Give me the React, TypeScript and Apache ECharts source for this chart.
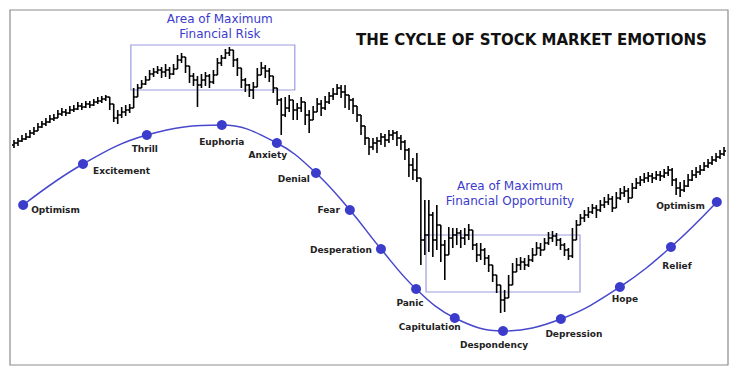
import React, { useEffect, useRef } from "react";
import * as echarts from "echarts";

// Weekly price bars (index, high, low, close); open = previous close
const closes = [222,224,226,228,232,234,238,241,243,246,247,251,253,252,255,256,259,258,261,260,263,264,266,268,261,247,250,253,255,257,268,277,281,285,291,293,295,293,295,291,296,305,308,299,289,285,280,285,289,283,290,302,307,312,315,305,297,285,280,275,278,290,297,294,289,277,265,250,257,265,255,257,263,250,245,253,261,257,263,269,271,277,273,270,265,259,250,239,227,218,222,224,228,225,230,232,227,223,215,200,195,187,125,130,150,125,140,120,110,127,130,132,127,130,135,120,110,115,107,100,90,80,65,67,80,93,100,103,100,105,110,117,115,122,127,129,125,120,115,109,125,140,147,150,153,157,155,160,163,166,157,167,172,174,167,177,182,185,187,189,187,190,189,192,195,185,177,175,179,185,190,193,195,199,202,205,208,211,214];
const highs = [225,227,230,232,235,238,242,244,247,250,251,255,257,256,259,260,263,262,264,264,266,268,269,270,268,257,255,258,260,261,277,281,285,289,295,297,299,298,301,298,301,310,312,307,297,292,289,291,293,291,295,307,310,316,318,310,307,293,287,281,283,297,303,300,297,288,275,267,268,270,265,262,268,260,255,259,267,265,269,273,277,281,280,280,270,267,257,247,237,227,227,228,232,231,235,235,234,230,225,217,207,212,187,165,165,153,160,135,125,138,137,137,135,137,141,130,122,122,117,110,97,90,78,75,90,102,107,108,107,110,117,123,122,127,133,134,132,127,122,117,137,145,151,155,158,161,160,165,168,171,169,173,177,179,177,182,187,189,192,193,192,194,194,196,199,197,187,183,185,191,195,198,200,203,206,209,212,215,218];
const lows = [217,219,223,225,227,230,234,237,239,242,244,247,249,249,251,253,255,255,257,257,259,261,262,264,255,243,241,247,249,252,260,271,277,280,286,288,291,287,288,286,290,297,302,292,282,279,258,277,279,277,281,293,299,306,309,298,289,277,273,268,266,281,290,287,283,272,260,230,248,253,245,245,253,240,232,245,253,249,255,261,265,270,267,257,255,251,243,230,220,210,215,212,220,218,222,225,219,215,205,188,185,183,100,110,113,108,115,103,85,110,117,120,117,120,125,115,103,105,100,93,83,72,52,53,73,80,93,95,95,98,103,110,109,115,120,123,119,115,109,105,107,133,141,143,147,151,147,153,157,160,153,160,165,168,162,171,176,179,182,183,182,185,184,187,189,179,170,168,173,178,184,187,190,194,197,200,203,206,209];
const firstOpen = 220;

// Emotion cycle points
const emotions = ["Optimism","Excitement","Thrill","Euphoria","Anxiety","Denial","Fear","Desperation","Panic","Capitulation","Despondency","Depression","Hope","Relief","Optimism"];
const emotionX = [3.3,18.3,34.3,53.1,66.9,76.7,85.2,93.0,101.8,111.5,123.6,138.1,152.9,165.7,177.2];
const emotionY = [160,201,230,240,222,192,155,116,76,47,34,46,78,118,163];

// Highlighted zones
const zoneLabels = ["Area of Maximum\nFinancial Risk", "Area of Maximum\nFinancial Opportunity"];
const zoneX = [[30.3, 71.4], [104.3, 142.9]];
const zoneY = [[275, 320], [73, 130]];

const titleText = "THE CYCLE OF STOCK MARKET EMOTIONS";

const labelPlacement: any[] = [
  { position: "right", offset: [-2, 5] },
  { position: "right", offset: [0, 7] },
  { position: "bottom", offset: [-2, -1] },
  { position: "bottom", offset: [0, 2] },
  { position: "bottom", offset: [-9, -3] },
  { position: "left", offset: [4, 6] },
  { position: "left", offset: [0, 0] },
  { position: "left", offset: [1, 1] },
  { position: "bottom", offset: [-6, -1] },
  { position: "bottom", offset: [-25, -6] },
  { position: "bottom", offset: [-9, -1] },
  { position: "bottom", offset: [13, 0] },
  { position: "bottom", offset: [5, -3] },
  { position: "bottom", offset: [6, 4] },
  { position: "left", offset: [-2, 4] },
];
const zoneLabelStyle: any[] = [
  { distance: 3, offset: [7, 0] },
  { distance: 3, offset: [7, -23] },
];

export default function App() {
  const ref = useRef<HTMLDivElement>(null);
  useEffect(() => {
    if (!ref.current) return;
    const chart = echarts.init(ref.current, null, { renderer: "svg" });
    const bars = closes.map((c, i) => [i + 1, i === 0 ? firstOpen : closes[i - 1], highs[i], lows[i], c]);
    const curve = emotions.map((name, i) => ({
      name,
      value: [emotionX[i], emotionY[i]],
      label: { show: true, formatter: name, ...labelPlacement[i] },
    }));
    const font = "'DejaVu Sans', Verdana, sans-serif";
    chart.setOption({
      animation: false,
      backgroundColor: "#ffffff",
      grid: { left: 10, right: 10, top: 10, bottom: 12, show: true, borderColor: "#8c8c8c", borderWidth: 1.2, backgroundColor: "#ffffff" },
      xAxis: { type: "value", min: 0, max: 180, show: false },
      yAxis: { type: "value", min: 0, max: 355, show: false },
      title: {
        text: titleText,
        left: 351,
        top: 27,
        textStyle: { fontFamily: font, fontSize: 15, fontWeight: "bold", color: "#111" },
      },
      series: [
        {
          type: "custom",
          name: "Price",
          data: bars,
          encode: { x: 0, y: [1, 2, 3, 4] },
          renderItem: (params: any, api: any) => {
            const x = api.value(0);
            const o = api.value(1), h = api.value(2), l = api.value(3), c = api.value(4);
            const hi = Math.max(h, o, c), lo = Math.min(l, o, c);
            const pHi = api.coord([x, hi]);
            const pLo = api.coord([x, lo]);
            const pO = api.coord([x, o]);
            const pC = api.coord([x, c]);
            const w = api.size([1, 0])[0] * 0.5;
            const st = { stroke: "#000", lineWidth: 1.6 };
            return {
              type: "group",
              children: [
                { type: "line", shape: { x1: pHi[0], y1: pHi[1], x2: pLo[0], y2: pLo[1] }, style: st },
                { type: "line", shape: { x1: pO[0] - w, y1: pO[1], x2: pO[0], y2: pO[1] }, style: st },
                { type: "line", shape: { x1: pC[0], y1: pC[1], x2: pC[0] + w, y2: pC[1] }, style: st },
              ],
            };
          },
          z: 3,
        },
        {
          type: "line",
          name: "Emotions",
          data: curve,
          smooth: 0.4,
          symbol: "circle",
          symbolSize: 10,
          lineStyle: { color: "#4848cc", width: 1.5 },
          itemStyle: { color: "#3c3ccc" },
          label: { fontFamily: font, fontSize: 9, fontWeight: "bold", color: "#222", distance: 5 },
          z: 4,
          markArea: {
            silent: true,
            itemStyle: { color: "rgba(0,0,0,0)", borderColor: "#9c9ce0", borderWidth: 1.2 },
            label: { show: true, position: "top", fontFamily: font, fontSize: 12, lineHeight: 15, color: "#3b3bcc", align: "center" },
            data: zoneLabels.map((name, i) => [
              { name, xAxis: zoneX[i][0], yAxis: zoneY[i][1], label: { ...zoneLabelStyle[i] } },
              { xAxis: zoneX[i][1], yAxis: zoneY[i][0] },
            ]),
          },
        },
      ],
    });
    return () => chart.dispose();
  }, []);
  return <div ref={ref} style={{ position: "fixed", left: 0, top: 0, width: 738, height: 377, background: "#fff" }} />;
}
